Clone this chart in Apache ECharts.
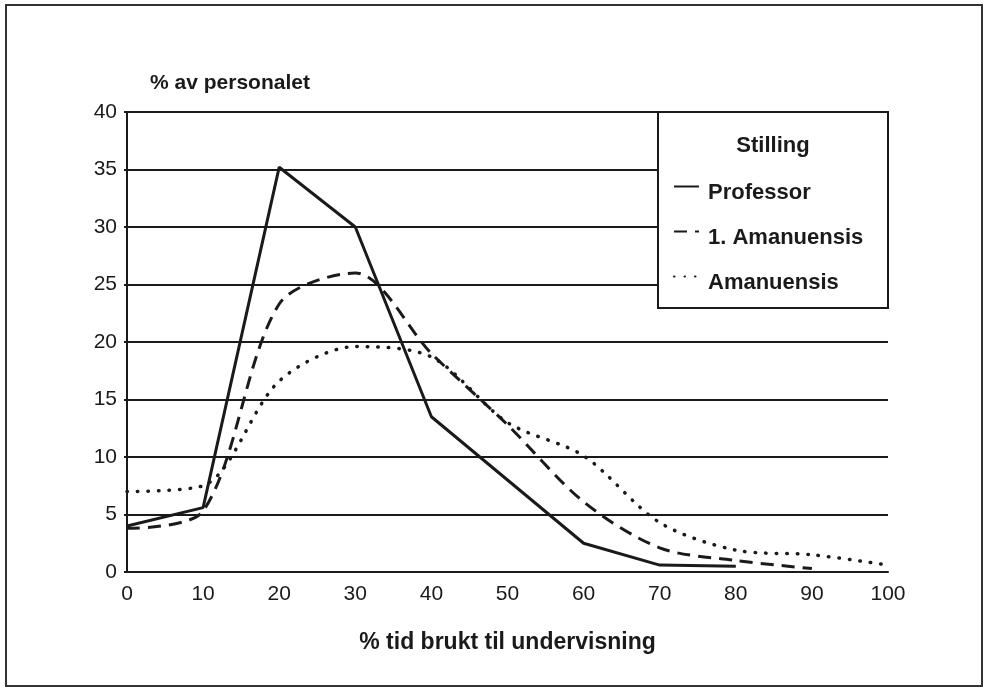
<!DOCTYPE html>
<html>
<head>
<meta charset="utf-8">
<script src="https://cdn.jsdelivr.net/npm/echarts@6/dist/echarts.min.js"></script>
<style>
html,body{margin:0;padding:0;background:#fff;}
#chart{width:984px;height:688px;}
</style>
</head>
<body>
<div id="chart"></div>
<script>
const xValues = [0, 10, 20, 30, 40, 50, 60, 70, 80, 90, 100];
const professor = [4.0, 5.6, 35.2, 30.0, 13.5, 8.0, 2.5, 0.6, 0.5, null, null];
const forsteAmanuensis = [3.8, 5.3, 23.3, 26.0, 19.0, 12.8, 6.1, 2.1, 1.0, 0.3, null];
const amanuensis = [7.0, 7.5, 16.6, 19.6, 18.7, 13.0, 10.1, 4.3, 1.9, 1.5, 0.6];
const seriesNames = ['Professor', '1. Amanuensis', 'Amanuensis'];
const xTitle = '% tid brukt til undervisning';
const yTitle = '% av personalet';
const legendTitle = 'Stilling';

function pairs(arr){
  const out = [];
  arr.forEach((v,i)=>{ if(v!==null) out.push([xValues[i], v]); });
  return out;
}

const ink = '#1a1a1a';
const font = 'Liberation Sans, Arial, sans-serif';
const chart = echarts.init(document.getElementById('chart'), null, {renderer:'canvas'});
chart.setOption({
  backgroundColor:'#fff',
  animation:false,
  grid:{left:127, right:96, top:112, bottom:116, containLabel:false},
  xAxis:{
    type:'value', min:0, max:100, interval:10,
    axisLine:{show:true, onZero:false, lineStyle:{color:ink, width:2}},
    axisTick:{show:false},
    splitLine:{show:false},
    axisLabel:{color:ink, fontSize:21, fontFamily:font, margin:12},
    name:xTitle, nameLocation:'middle', nameGap:59,
    nameTextStyle:{color:ink, fontSize:23, fontFamily:font, fontWeight:'bold'}
  },
  yAxis:{
    type:'value', min:0, max:40, interval:5,
    axisLine:{show:true, lineStyle:{color:ink, width:2}},
    axisTick:{show:true, length:3, lineStyle:{color:ink, width:2}},
    splitLine:{show:true, lineStyle:{color:ink, width:2}},
    axisLabel:{color:ink, fontSize:21, fontFamily:font, margin:10},
  },
  legend:{
    orient:'vertical',
    left:673, top:169, padding:0, z:10,
    itemWidth:25, itemHeight:14, itemGap:10,
    itemStyle:{opacity:0, color:'transparent', borderWidth:0},
    formatter: name => '\n' + name,
    textStyle:{color:ink, fontSize:22, fontFamily:font, fontWeight:'bold', lineHeight:13, padding:[0,0,0,4]},
    data:seriesNames
  },
  graphic:[
    {type:'rect', shape:{x:6, y:5, width:976, height:681}, style:{fill:null, stroke:'#333', lineWidth:2}, silent:true, z:1},
    {type:'rect', shape:{x:658, y:112, width:230, height:196}, style:{fill:'#fff', stroke:ink, lineWidth:2}, z:1, silent:true},
    {type:'text', style:{text:legendTitle, x:773, y:146, align:'center', verticalAlign:'middle', fill:ink, font:'bold 22px '+font}, z:11},
    {type:'text', style:{text:yTitle, x:150, y:83, verticalAlign:'middle', fill:ink, font:'bold 21px '+font}, z:11}
  ],
  series:[
    {name:seriesNames[0], type:'line', data:pairs(professor), showSymbol:false, symbol:'none',
     lineStyle:{color:ink, width:3, type:'solid'}, itemStyle:{color:ink}, z:3},
    {name:seriesNames[1], type:'line', data:pairs(forsteAmanuensis), showSymbol:false, symbol:'none', smooth:0.3,
     lineStyle:{color:ink, width:3, type:[13,8]}, itemStyle:{color:ink}, z:3},
    {name:seriesNames[2], type:'line', data:pairs(amanuensis), showSymbol:false, symbol:'none', smooth:0.3,
     lineStyle:{color:ink, width:3.5, type:[0.5,10], cap:'round'}, itemStyle:{color:ink}, z:3}
  ]
});
</script>
</body>
</html>
